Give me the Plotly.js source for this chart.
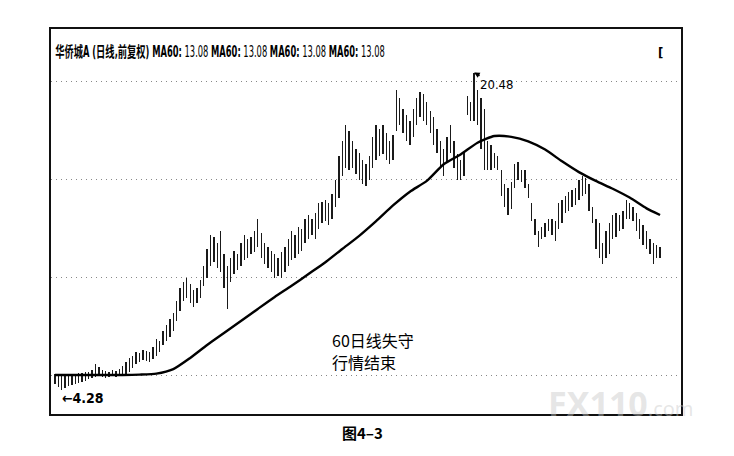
<!DOCTYPE html>
<html>
<head>
<meta charset="utf-8">
<script src="https://cdn.plot.ly/plotly-3.0.1.min.js"></script>
<style>html,body{margin:0;padding:0;background:#fff;}#chart{width:734px;height:456px;}</style>
</head>
<body>
<div id="chart"></div>
<script>
// Daily bars: high and low prices (left to right)
const barHigh = [
  5.1,5.1,5.05,5.1,5.1,5.05,5.1,5.15,5.15,5.2,
  5.2,5.3,5.6,5.45,5.3,5.25,5.2,5.3,5.25,5.35,
  5.5,5.7,5.9,6.0,6.2,6.15,6.3,6.25,6.2,6.5,
  6.9,6.8,7.3,7.6,7.9,8.2,8.8,9.5,9.8,10.0,
  9.7,9.4,9.5,9.9,10.6,11.5,12.2,12.1,11.8,12.4,
  11.2,10.6,11.0,11.4,11.2,11.8,12.2,12.0,12.1,12.4,
  13.0,12.3,11.8,11.6,11.4,11.2,11.0,11.3,11.6,12.0,
  12.4,12.2,12.6,12.5,13.0,13.2,13.0,13.3,13.8,13.9,
  14.0,13.8,14.3,15.0,16.2,17.0,17.8,17.5,17.0,16.6,
  16.4,16.0,15.8,16.2,17.2,17.8,17.6,17.8,17.4,17.0,
  17.3,19.6,19.2,18.6,18.3,18.0,18.6,19.2,19.5,19.4,
  19.0,18.5,18.2,17.6,17.0,16.6,17.2,17.8,17.0,16.3,
  16.0,16.4,19.3,19.0,20.48,19.6,19.2,18.6,17.0,16.8,
  16.4,16.2,15.5,14.8,14.6,14.9,15.8,15.9,15.5,15.5,
  14.8,13.8,13.0,12.4,12.6,12.8,13.0,13.0,12.9,13.8,
  14.0,14.2,14.4,14.5,14.6,15.0,15.2,15.1,14.8,13.6,
  13.0,12.8,11.8,12.4,12.8,13.2,13.3,13.2,13.4,14.0,
  13.8,13.6,13.3,13.0,12.7,12.4,12.0,11.8,11.7,11.6
];
const barLow = [
  4.6,4.45,4.28,4.4,4.5,4.55,4.6,4.65,4.7,4.75,
  4.85,4.9,4.95,5.0,4.95,4.9,4.95,5.0,4.95,5.0,
  5.0,5.05,5.2,5.4,5.6,5.7,5.8,5.75,5.7,5.85,
  6.0,6.2,6.6,6.8,7.0,7.3,7.8,8.3,8.8,9.0,
  8.7,8.5,8.7,9.0,9.6,10.0,10.6,10.8,10.5,10.3,
  9.5,8.4,9.8,10.2,10.4,10.6,10.9,11.0,11.2,11.3,
  11.6,11.0,10.7,10.5,10.3,10.0,10.1,10.0,10.3,10.6,
  10.9,11.0,11.2,11.4,11.8,12.0,12.2,12.0,12.5,12.8,
  12.9,12.7,13.0,13.6,14.1,15.2,15.6,15.5,15.6,15.3,
  15.0,14.8,14.7,15.0,15.6,16.0,16.2,16.3,16.0,15.8,
  16.0,17.5,17.8,17.4,17.0,16.8,17.2,17.8,18.2,18.0,
  17.8,17.4,16.8,16.4,15.6,15.2,15.9,16.4,15.6,15.0,
  15.0,15.2,18.3,18.0,18.0,17.8,16.6,15.5,15.5,15.5,
  15.6,15.5,14.2,13.6,13.2,13.5,14.6,15.0,14.9,14.6,
  14.1,12.9,12.2,11.6,12.0,12.1,12.4,12.2,11.9,12.5,
  12.8,13.3,13.4,13.6,13.7,14.0,14.2,14.3,13.4,12.8,
  11.5,11.0,10.7,11.0,11.2,12.0,12.1,12.4,12.5,13.0,
  13.0,12.9,12.4,12.0,11.7,11.5,11.2,10.7,11.0,11.0
];
// 60-day moving average, read at every fifth bar
const maIndex = [0,5,10,15,20,25,30,35,40,45,50,55,60,65,70,75,80,85,90,95,100,105,110,115,120,125,130,135,140,145,150,155,160,165,170,175,179];
const maValue = [5.05,5.05,5.05,5.05,5.05,5.07,5.12,5.35,5.92,6.58,7.19,7.8,8.42,9.03,9.6,10.2,10.8,11.48,12.15,12.9,13.7,14.4,14.95,15.8,16.3,16.9,17.24,17.2,16.97,16.55,15.95,15.4,14.95,14.55,14.1,13.55,13.21];
const gridLevels = [5, 10, 15, 20];
const peakIndex = 124, peakValue = 20.48;
const lowIndex = 2, lowValue = 4.28;

const idx = barHigh.map((_, i) => i);
const bars = {
  type: 'bar', x: idx, base: barLow, y: barHigh.map((h, i) => h - barLow[i]),
  width: 0.4, marker: {color: '#1a1a1a', line: {width: 0}}, hoverinfo: 'skip'
};
const ma = {
  type: 'scatter', mode: 'lines', x: maIndex, y: maValue,
  line: {color: '#000', width: 2.4, shape: 'spline', smoothing: 0.6}, hoverinfo: 'skip'
};

const narrow = '"Liberation Sans Narrow", "DejaVu Sans Condensed", "Noto Sans CJK SC", sans-serif';
const cjk = '"Noto Sans CJK SC", sans-serif';

const layout = {
  width: 734, height: 456,
  margin: {l: 51, r: 53, t: 29, b: 42},
  paper_bgcolor: '#fff', plot_bgcolor: '#fff',
  showlegend: false, bargap: 0,
  xaxis: {range: [-1.18, 185.2], showgrid: false, zeroline: false, showticklabels: false, ticks: '',
          showline: true, mirror: true, linecolor: '#111', linewidth: 1.6, fixedrange: true},
  yaxis: {range: [3.06, 22.70], tickvals: gridLevels, showticklabels: false, ticks: '',
          showgrid: true, gridcolor: '#888', griddash: '1px,4px', gridwidth: 1, zeroline: false,
          showline: true, mirror: true, linecolor: '#111', linewidth: 1.6, fixedrange: true},
  annotations: [
    {xref: 'paper', yref: 'paper', x: 0.003, y: 0.94, xanchor: 'left', yanchor: 'middle', showarrow: false,
     text: '<b>华侨城A (日线,前复权) MA60:</b> 13.08 <b>MA60:</b> 13.08 <b>MA60:</b> 13.08 <b>MA60:</b> 13.08',
     font: {family: narrow, size: 15, color: '#000'}},
    {xref: 'paper', yref: 'paper', x: 0.968, y: 0.938, xanchor: 'center', yanchor: 'middle', showarrow: false,
     text: '<b>[</b>', font: {family: narrow, size: 13, color: '#000'}},
    {xref: 'x', yref: 'y', x: peakIndex, y: peakValue, ax: 22, ay: 12, showarrow: true,
     arrowhead: 2, arrowsize: 0.8, arrowwidth: 1.4, arrowcolor: '#000', standoff: 0,
     text: '20.48', font: {family: narrow, size: 13, color: '#000'}},
    {xref: 'x', yref: 'y', x: lowIndex - 0.4, y: 3.86, xanchor: 'left', yanchor: 'middle', showarrow: false,
     text: '<b>←' + lowValue.toFixed(2) + '</b>', font: {family: narrow, size: 14, color: '#000'}},
    {xref: 'paper', yref: 'paper', x: 0.443, y: 0.192, xanchor: 'left', yanchor: 'middle', showarrow: false,
     text: '60日线失守', font: {family: cjk, size: 16, color: '#000'}},
    {xref: 'paper', yref: 'paper', x: 0.443, y: 0.135, xanchor: 'left', yanchor: 'middle', showarrow: false,
     text: '行情结束', font: {family: cjk, size: 16, color: '#000'}},
    {xref: 'paper', yref: 'paper', x: 0.905, y: 0.028, xanchor: 'center', yanchor: 'middle', showarrow: false,
     text: '<b>FX110</b><span style="font-size:20px">.com</span>', font: {family: '"Noto Sans", sans-serif', size: 34, color: 'rgba(200,200,200,0.45)'}},
    {xref: 'paper', yref: 'paper', x: 0.495, y: -0.049, xanchor: 'center', yanchor: 'middle', showarrow: false,
     text: '<b>图4–3</b>', font: {family: cjk, size: 15, color: '#000'}}
  ]
};

Plotly.newPlot('chart', [bars, ma], layout, {displayModeBar: false, staticPlot: true}).then(function () {
  // squeeze the header text horizontally, like the condensed terminal font of the original
  const targetWidth = 330;
  const ann = document.querySelectorAll('#chart .annotation')[0];
  if (!ann) return;
  const t = ann.querySelector('text.annotation-text');
  if (!t) return;
  const bb = t.getBBox();
  if (bb.width > targetWidth) {
    const s = targetWidth / bb.width;
    const x0 = bb.x;
    t.setAttribute('transform', 'translate(' + x0 + ',0) scale(' + s + ',1) translate(' + (-x0) + ',0)');
  }
});
</script>
</body>
</html>
